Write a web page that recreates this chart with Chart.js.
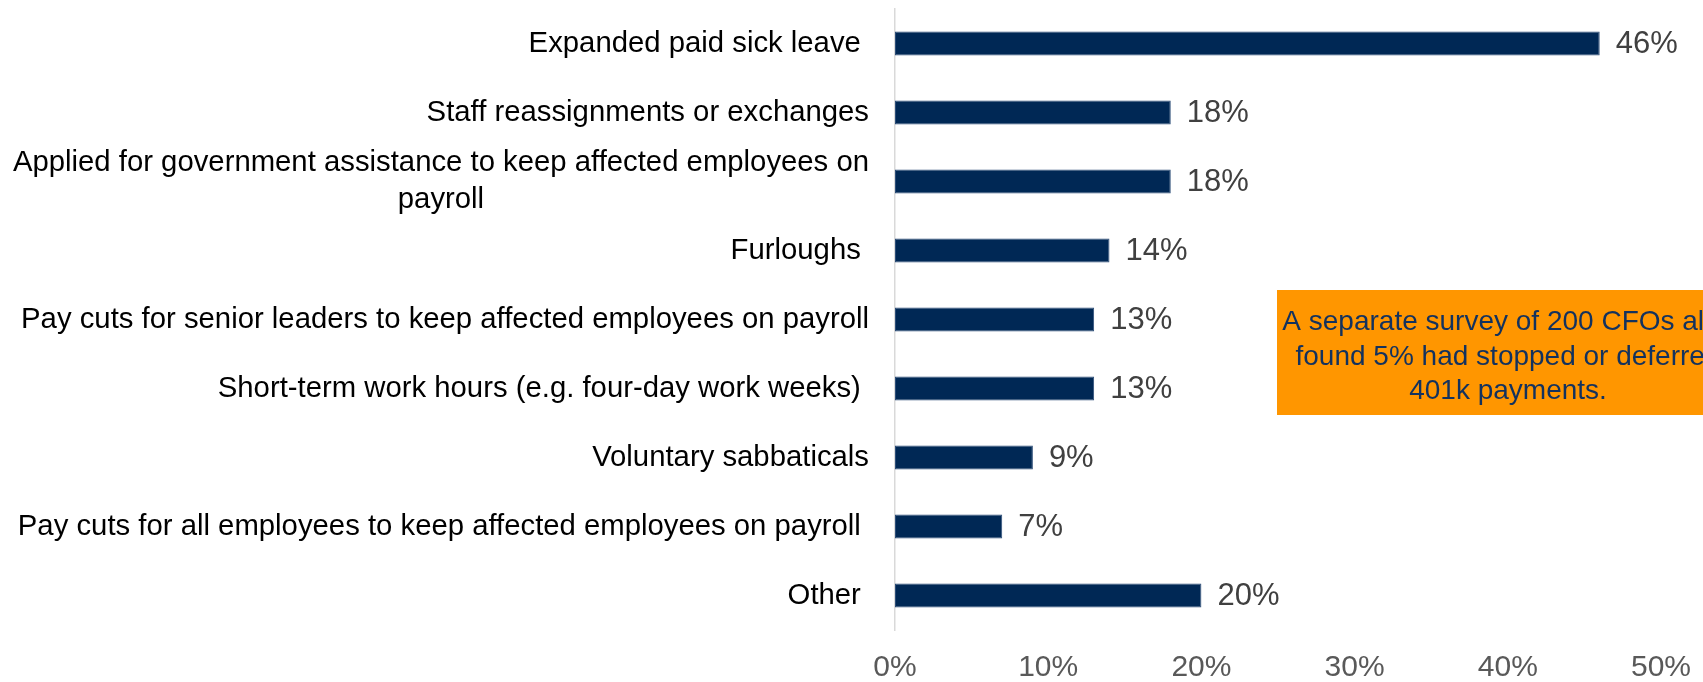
<!DOCTYPE html>
<html>
<head>
<meta charset="utf-8">
<script src="https://cdn.jsdelivr.net/npm/chart.js@4/dist/chart.umd.min.js"></script>
<style>
  html, body { margin: 0; padding: 0; background: #fff; }
  #wrap { width: 1703px; height: 682px; position: relative; }
</style>
</head>
<body>
<div id="wrap"><canvas id="chart"></canvas></div>
<script>
// ── Data ──────────────────────────────────────────────
// trailing spaces are part of some labels and shift them left a little
const categories = [
  'Expanded paid sick leave ',
  'Staff reassignments or exchanges',
  ['Applied for government assistance to keep affected employees on', 'payroll'],
  'Furloughs ',
  'Pay cuts for senior leaders to keep affected employees on payroll',
  'Short-term work hours (e.g. four-day work weeks) ',
  'Voluntary sabbaticals',
  'Pay cuts for all employees to keep affected employees on payroll ',
  'Other ',
];
const shares = [46, 18, 18, 14, 13, 13, 9, 7, 20];
const xTicks = [0, 10, 20, 30, 40, 50];
const noteLines = [
  'A separate survey of 200 CFOs also',
  'found 5% had stopped or deferred',
  '401k payments.',
];

const FONT = "'Liberation Sans', Arial, sans-serif";
const NAVY = '#002855';

// ── Plugins ───────────────────────────────────────────
// category names: right-aligned block, multi-line names centred within it
const categoryLabels = {
  id: 'categoryLabels',
  afterDraw(chart) {
    const { ctx, chartArea } = chart;
    const yScale = chart.scales.y;
    const right = chartArea.left - 26;
    ctx.save();
    ctx.font = `29.3px ${FONT}`;
    ctx.fillStyle = '#000';
    ctx.textAlign = 'center';
    ctx.textBaseline = 'middle';
    categories.forEach((lab, i) => {
      const lines = Array.isArray(lab) ? lab : [lab];
      const widest = Math.max(...lines.map(l => ctx.measureText(l).width));
      const yc = yScale.getPixelForValue(i);
      lines.forEach((l, j) => {
        const y = yc + (j - (lines.length - 1) / 2) * 37;
        ctx.fillText(l, right - widest / 2, y);
      });
    });
    ctx.restore();
  },
};

// percentage at the end of each bar
const valueLabels = {
  id: 'valueLabels',
  afterDatasetsDraw(chart) {
    const { ctx } = chart;
    const meta = chart.getDatasetMeta(0);
    ctx.save();
    ctx.font = `31px ${FONT}`;
    ctx.fillStyle = '#404040';
    ctx.textAlign = 'left';
    ctx.textBaseline = 'middle';
    meta.data.forEach((bar, i) => {
      ctx.fillText(shares[i] + '%', bar.x + 16, bar.y + 1);
    });
    ctx.restore();
  },
};

// orange call-out box, runs off the right edge
const noteBox = {
  id: 'noteBox',
  afterDraw(chart) {
    const { ctx, width } = chart;
    const left = 1277, top = 290, h = 125, cx = 1508;
    ctx.save();
    ctx.fillStyle = '#FF9600';
    ctx.fillRect(left, top, width - left, h);
    ctx.font = `28px ${FONT}`;
    ctx.fillStyle = '#13325E';
    ctx.textAlign = 'center';
    ctx.textBaseline = 'alphabetic';
    noteLines.forEach((line, i) => ctx.fillText(line, cx, 330 + i * 34.5));
    ctx.restore();
  },
};

// ── Chart ─────────────────────────────────────────────
new Chart(document.getElementById('chart'), {
  type: 'bar',
  data: {
    labels: categories,
    datasets: [{
      data: shares,
      backgroundColor: NAVY,
      borderColor: '#2c4d78',
      borderWidth: 1,
      borderSkipped: false,
      categoryPercentage: 1,
      barPercentage: 0.35,
    }],
  },
  options: {
    indexAxis: 'y',
    responsive: true,
    maintainAspectRatio: false,
    animation: false,
    layout: { padding: { left: 0, right: 42, top: 9, bottom: 0 } },
    plugins: { legend: { display: false }, tooltip: { enabled: false } },
    scales: {
      x: {
        min: 0,
        max: 50,
        afterBuildTicks: s => { s.ticks = xTicks.map(v => ({ value: v })); },
        // fixed height; the last tick label may hang into the right padding
        afterFit: s => { s.height = 52; s.paddingRight = 0; s.paddingLeft = 0; },
        grid: { display: false, drawTicks: false },
        border: { display: false },
        ticks: {
          padding: 20,
          color: '#595959',
          font: { family: FONT, size: 30 },
          callback: v => v + '%',
        },
      },
      y: {
        afterFit: s => { s.width = 895; },
        grid: { display: false, drawTicks: false },
        border: { display: true, color: '#D9D9D9', width: 1.5 },
        ticks: { display: false },
      },
    },
  },
  plugins: [categoryLabels, valueLabels, noteBox],
});
</script>
</body>
</html>
